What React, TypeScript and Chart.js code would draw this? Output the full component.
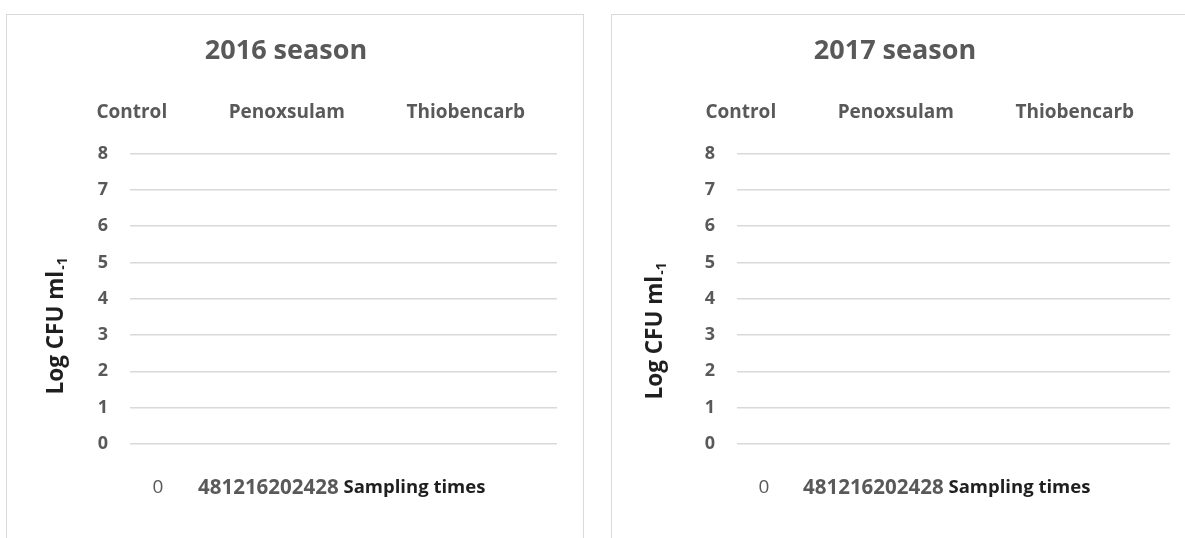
import React, { useEffect, useRef } from "react";
import { Chart, registerables } from "chart.js";

Chart.register(...registerables);

// ---- data ----
const xTickLabels = ["0", "4", "8", "12", "16", "20", "24", "28"];
const seriesNames = ["Control", "Penoxsulam", "Thiobencarb"];
// No data points are visible in the reference: every series is empty.
const control2016: number[] = [];
const penoxsulam2016: number[] = [];
const thiobencarb2016: number[] = [];
const control2017: number[] = [];
const penoxsulam2017: number[] = [];
const thiobencarb2017: number[] = [];
const yMin = 0;
const yMax = 8;
const yStep = 1;
const panelTitles = ["2016 season", "2017 season"];
const yAxisTitle = "Log CFU ml";
const yAxisTitleSub = "-1";
const xAxisTitle = "Sampling times";

const FONT = "'Open Sans', 'Noto Sans', sans-serif";
const GRAY = "#595959";
const DARK = "#1f1f1f";
const GRID = "#d9d9d9";

const axisTextPlugin = {
  id: "axisText",
  afterDraw(chart: any, _args: any, opts: any) {
    const { ctx, chartArea } = chart;
    ctx.save();
    // y axis title with subscript
    ctx.translate(chartArea.left + opts.yTitleDx, chartArea.top + opts.yTitleDy);
    ctx.rotate(-Math.PI / 2);
    ctx.fillStyle = DARK;
    ctx.textBaseline = "alphabetic";
    ctx.textAlign = "left";
    ctx.font = `bold 22.5px ${FONT}`;
    const w1 = ctx.measureText(opts.yTitle).width;
    ctx.font = `bold 14px ${FONT}`;
    const w2 = ctx.measureText(opts.yTitleSub).width;
    const start = -(w1 + w2) / 2;
    ctx.font = `bold 22.5px ${FONT}`;
    ctx.fillText(opts.yTitle, start, 8);
    ctx.font = `bold 14px ${FONT}`;
    ctx.fillText(opts.yTitleSub, start + w1 + 1, 12);
    ctx.restore();

    // x axis labels (rendered as in the reference: first label, then the rest run together)
    const labels: string[] = chart.data.labels;
    const y = chartArea.bottom + opts.xLabelDy;
    ctx.save();
    ctx.textBaseline = "middle";
    ctx.fillStyle = GRAY;
    ctx.font = `19px ${FONT}`;
    ctx.textAlign = "center";
    ctx.fillText(labels[0], chartArea.left + opts.firstDx, y);
    ctx.textAlign = "left";
    ctx.font = `bold 20.5px ${FONT}`;
    const rest = labels.slice(1).join("");
    const rx = chartArea.left + opts.restDx;
    ctx.fillText(rest, rx, y);
    const rw = ctx.measureText(rest).width;
    ctx.font = `bold 18.5px ${FONT}`;
    ctx.fillStyle = DARK;
    ctx.fillText(" " + opts.xTitle, rx + rw, y);
    ctx.restore();
  },
};

type PanelProps = {
  left: number;
  top: number;
  width: number;
  height: number;
  title: string;
  values: number[][];
  yAxisWidth: number;
  padLeft: number;
  padRight: number;
  yTitleDx: number;
  yTitleDy: number;
  firstDx: number;
  restDx: number;
};

function Panel(p: PanelProps) {
  const ref = useRef<HTMLCanvasElement | null>(null);
  useEffect(() => {
    if (!ref.current) return;
    const chart = new Chart(ref.current, {
      type: "line",
      data: {
        labels: xTickLabels,
        datasets: seriesNames.map((name, i) => ({
          label: name,
          data: p.values[i],
          borderColor: GRAY,
          backgroundColor: GRAY,
        })),
      },
      options: {
        animation: false,
        responsive: false,
        layout: { padding: { top: 0, right: p.padRight, bottom: 95, left: p.padLeft } },
        plugins: {
          tooltip: { enabled: false },
          title: {
            display: true,
            text: p.title,
            color: GRAY,
            font: { family: FONT, size: 27, weight: "bold" },
            padding: { top: 20, bottom: 24 },
          },
          legend: {
            display: true,
            position: "top",
            labels: {
              boxWidth: 40,
              padding: 12,
              color: GRAY,
              font: { family: FONT, size: 19, weight: "bold" },
              generateLabels: (chart: any) =>
                (Chart.defaults.plugins.legend.labels.generateLabels as any)(chart).map((l: any) => ({
                  ...l,
                  fillStyle: "rgba(0,0,0,0)",
                  strokeStyle: "rgba(0,0,0,0)",
                  lineWidth: 0,
                })),
            },
          },
          axisText: {
            yTitle: yAxisTitle,
            yTitleSub: yAxisTitleSub,
            xTitle: xAxisTitle,
            yTitleDx: p.yTitleDx,
            yTitleDy: p.yTitleDy,
            xLabelDy: 44,
            firstDx: p.firstDx,
            restDx: p.restDx,
          },
        } as any,
        scales: {
          x: { display: false },
          xTop: {
            type: "category",
            position: "top",
            display: true,
            grid: { display: false },
            ticks: { display: false },
            border: { display: false },
            afterFit: (s: any) => {
              s.height = 21;
            },
          },
          y: {
            min: yMin,
            max: yMax,
            ticks: {
              stepSize: yStep,
              color: GRAY,
              padding: 22,
              font: { family: FONT, size: 18, weight: "bold" },
            },
            grid: { color: GRID, lineWidth: 1.5, drawTicks: false },
            border: { display: false },
            afterFit: (s: any) => {
              s.width = p.yAxisWidth;
            },
          },
        } as any,
      },
      plugins: [axisTextPlugin],
    });
    return () => chart.destroy();
  }, []);
  return (
    <div
      style={{
        position: "absolute",
        left: p.left,
        top: p.top,
        width: p.width,
        height: p.height,
        border: `1px solid ${GRID}`,
        background: "#fff",
      }}
    >
      <canvas ref={ref} width={p.width} height={p.height} style={{ display: "block" }} />
    </div>
  );
}

export default function App() {
  return (
    <div
      style={{
        position: "fixed",
        left: 0,
        top: 0,
        width: 1185,
        height: 538,
        overflow: "hidden",
        background: "#fff",
      }}
    >
      <Panel
        left={6}
        top={14}
        width={576}
        height={524}
        title={panelTitles[0]}
        values={[control2016, penoxsulam2016, thiobencarb2016]}
        yAxisWidth={115}
        padLeft={8}
        padRight={26}
        yTitleDx={-75}
        yTitleDy={173}
        firstDx={28}
        restDx={68}
      />
      <Panel
        left={611}
        top={14}
        width={576}
        height={524}
        title={panelTitles[1]}
        values={[control2017, penoxsulam2017, thiobencarb2017]}
        yAxisWidth={117}
        padLeft={8}
        padRight={18}
        yTitleDx={-83}
        yTitleDy={178}
        firstDx={27}
        restDx={66}
      />
    </div>
  );
}
